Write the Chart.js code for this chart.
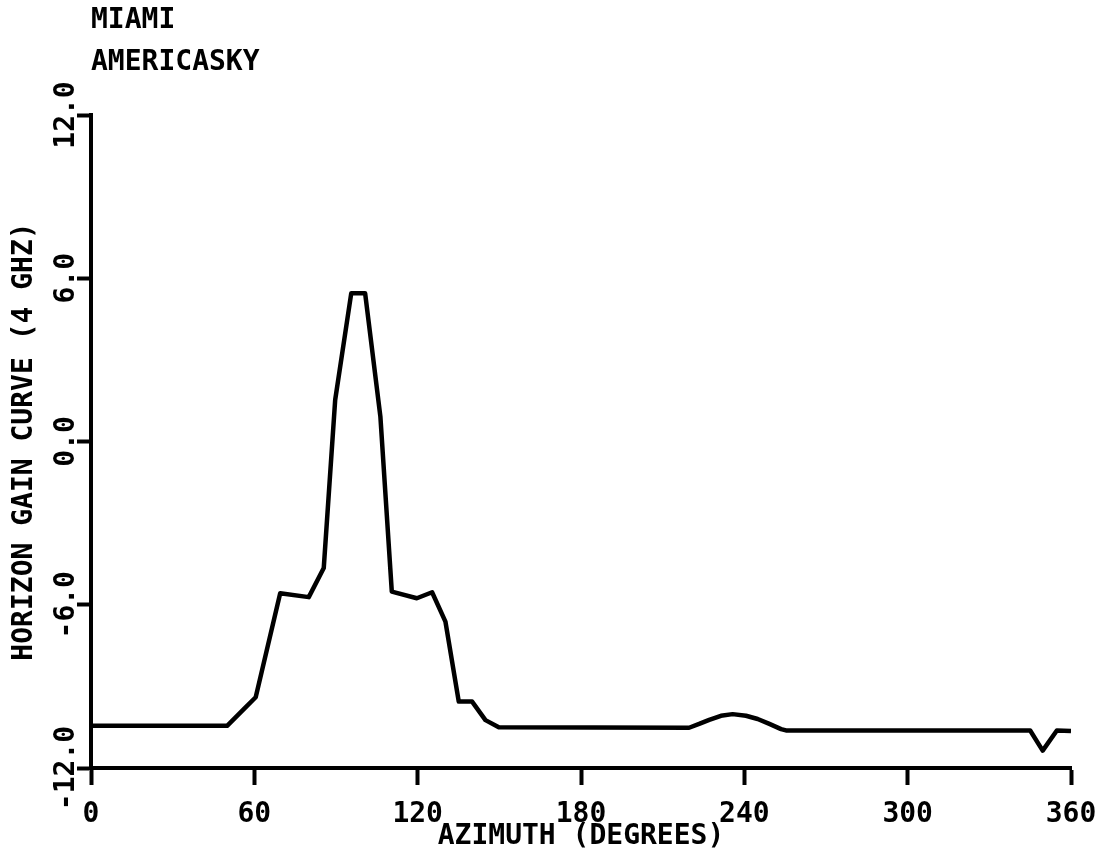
<!DOCTYPE html>
<html>
<head>
<meta charset="utf-8">
<script src="https://cdn.jsdelivr.net/npm/chart.js@4.4.1/dist/chart.umd.min.js"></script>
<style>
  html, body { margin: 0; padding: 0; background: #fff; }
</style>
</head>
<body>
<canvas id="gainChart" width="1112" height="857"></canvas>
<script>
const titleLines = ['MIAMI', 'AMERICASKY'];
const xTitle = 'AZIMUTH (DEGREES)';
const yTitle = 'HORIZON GAIN CURVE (4 GHZ)';

// azimuth (degrees) and gain
const azimuth = [0, 50, 56.5, 60.5, 69.5, 80, 85.5, 89.7, 95.6, 100.7, 106.3, 110.5, 119.7, 125.3, 130.2, 135.1, 140, 144.9, 149.8,
    219.7, 223.4, 227.1, 231.4, 235.7, 240.6, 244.9, 249.2, 253.5, 255.3, 345, 349.6, 354.8, 360];
const gain = [-10.45, -10.45, -9.8, -9.4, -5.58, -5.72, -4.65, 1.53, 5.45, 5.45, 0.92, -5.52, -5.76, -5.54, -6.62, -9.56, -9.56, -10.24, -10.5,
    -10.52, -10.38, -10.23, -10.08, -10.02, -10.08, -10.2, -10.38, -10.57, -10.62, -10.62, -11.36, -10.62, -10.64];

const xTicks = [0, 60, 120, 180, 240, 300, 360];
const yTicks = [-12, -6, 0, 6, 12];

const ink = '#000';
const plotFont = { family: '"DejaVu Sans Mono", monospace', size: 28, weight: 'bold' };

const axisGrid = (len) => ({
    display: true,
    drawOnChartArea: false,
    drawTicks: true,
    tickLength: len,
    tickWidth: 4,
    tickColor: ink
});

new Chart(document.getElementById('gainChart').getContext('2d'), {
    type: 'line',
    data: {
        datasets: [{
            data: azimuth.map((a, i) => ({ x: a, y: gain[i] })),
            borderColor: ink,
            borderWidth: 4.5,
            pointRadius: 0,
            tension: 0,
            fill: false,
            borderJoinStyle: 'round'
        }]
    },
    options: {
        responsive: false,
        animation: false,
        devicePixelRatio: 1,
        layout: { padding: { top: 0, right: 41, bottom: 0, left: 0 } },
        plugins: {
            legend: { display: false },
            tooltip: { enabled: false },
            title: {
                display: true,
                text: titleLines,
                align: 'start',
                fullSize: false,
                color: ink,
                font: { ...plotFont, lineHeight: 1.5 },
                padding: { top: 0, bottom: 31 }
            }
        },
        scales: {
            x: {
                type: 'linear',
                min: xTicks[0],
                max: xTicks[xTicks.length - 1],
                afterBuildTicks: s => { s.ticks = xTicks.map(v => ({ value: v })); },
                ticks: { color: ink, font: plotFont, padding: 13, maxRotation: 0, autoSkip: false },
                border: { display: true, color: ink, width: 4 },
                grid: axisGrid(17),
                title: { display: true, text: xTitle, color: ink, font: plotFont, padding: { top: 0, bottom: 3 } },
                afterFit: s => { s.height = 89; }
            },
            y: {
                min: yTicks[0],
                max: yTicks[yTicks.length - 1],
                afterBuildTicks: s => { s.ticks = yTicks.map(v => ({ value: v })); },
                ticks: {
                    color: ink, font: plotFont, autoSkip: false,
                    minRotation: 90, maxRotation: 90, crossAlign: 'center', padding: -32,
                    callback: v => v.toFixed(1)
                },
                border: { display: true, color: ink, width: 4 },
                grid: axisGrid(14),
                title: { display: true, text: yTitle, color: ink, font: plotFont, padding: { top: 8, bottom: 0 } },
                afterFit: s => { s.width = 91; }
            }
        }
    }
});
</script>
</body>
</html>
